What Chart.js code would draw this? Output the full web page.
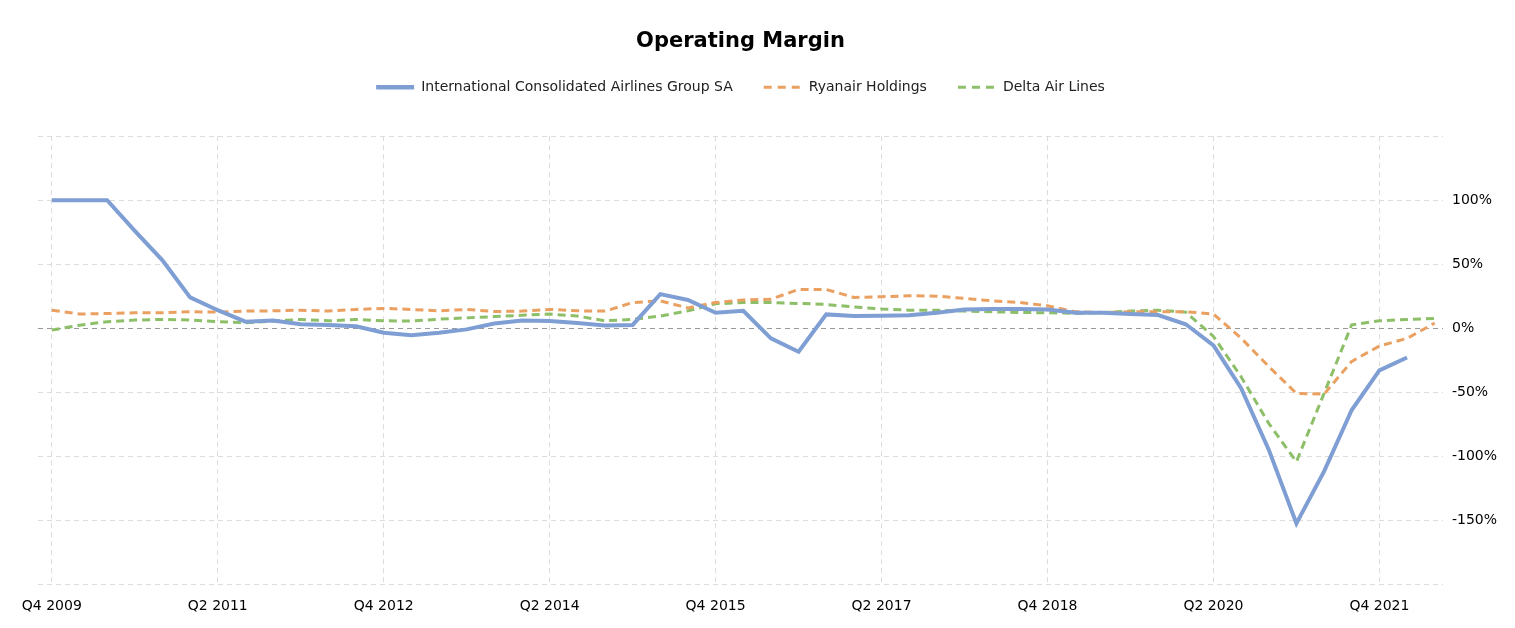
<!DOCTYPE html>
<html>
<head>
<meta charset="utf-8">
<script src="https://cdn.jsdelivr.net/npm/chart.js@4"></script>
<style>
html,body{margin:0;padding:0;background:#fff;}
#wrap{width:1515px;height:628px;}
</style>
</head>
<body>
<div id="wrap"><canvas id="c" width="1515" height="628"></canvas></div>
<script>
const quarters = ["Q4 2009","Q1 2010","Q2 2010","Q3 2010","Q4 2010","Q1 2011","Q2 2011","Q3 2011","Q4 2011","Q1 2012","Q2 2012","Q3 2012","Q4 2012","Q1 2013","Q2 2013","Q3 2013","Q4 2013","Q1 2014","Q2 2014","Q3 2014","Q4 2014","Q1 2015","Q2 2015","Q3 2015","Q4 2015","Q1 2016","Q2 2016","Q3 2016","Q4 2016","Q1 2017","Q2 2017","Q3 2017","Q4 2017","Q1 2018","Q2 2018","Q3 2018","Q4 2018","Q1 2019","Q2 2019","Q3 2019","Q4 2019","Q1 2020","Q2 2020","Q3 2020","Q4 2020","Q1 2021","Q2 2021","Q3 2021","Q4 2021","Q1 2022","Q2 2022"];
const xTickIndices = [0,6,12,18,24,30,36,42,48];
const yTickValues = [-200,-150,-100,-50,0,50,100,150];
const yLabelled = [-150,-100,-50,0,50,100];

const seriesNames = ["International Consolidated Airlines Group SA","Ryanair Holdings","Delta Air Lines"];
const iag = [100,100,100,76,53,24,14,5,6,3,2.5,1.5,-3.6,-5.5,-3.6,-1,3.6,6,5.5,4,2,2.5,26.6,22,12,13.5,-8,-18.5,10.7,9.4,9.6,10,12,14.6,15,15,14.6,12,12,11,10.2,3,-13.5,-47,-95,-152.6,-112,-64,-33,-23,null];
const ryanair = [14,11,11.4,12,12,12.8,12.5,13.3,13.5,14,13.3,14.6,15.4,14.6,13.5,14.6,13,13.3,14.6,13.5,13.3,20,21.3,15.8,20,22,22.6,30.2,30.2,24,24.5,25.3,25,23.2,21.3,20,17.4,12.8,12.2,12.7,12.8,12.8,11,-7.8,-30,-51,-51.6,-26,-14,-8,3.9];
const delta = [-1.5,2.3,5,6.3,6.8,6.3,5,4.2,5.5,6.8,5.7,6.8,5.7,5.5,7,8,9,10,11,9.4,5.7,6.8,9.4,13.5,19,20,20,19.3,18.5,16.5,15,14,14,13.3,12.8,12.2,12,11.5,12.2,13.3,14,12.5,-6.5,-38,-74.5,-104.4,-51,2.6,5.7,6.8,7.6];

const toPts = arr => arr.map((v,i)=>({x:i,y:v}));
const FONT = "'DejaVu Sans', Verdana, sans-serif";
const legendDash = [8,6];

const legendSize = {
  id:'legendSize',
  afterInit(chart){
    const lg = chart.legend;
    if(!lg) return;
    const orig = lg.fit.bind(lg);
    lg.fit = function(){ orig(); this.height = 87; };
  }
};

new Chart(document.getElementById('c'), {
  type: 'line',
  data: {
    datasets: [
      {label: seriesNames[0], data: toPts(iag), borderColor:'#7f9fd4', backgroundColor:'#7f9fd4', borderWidth:4, pointRadius:0, tension:0},
      {label: seriesNames[1], data: toPts(ryanair), borderColor:'#e9a061', backgroundColor:'#e9a061', borderWidth:3, borderDash:[8,5], pointRadius:0, tension:0},
      {label: seriesNames[2], data: toPts(delta), borderColor:'#8dbf68', backgroundColor:'#8dbf68', borderWidth:3, borderDash:[8,5], pointRadius:0, tension:0}
    ]
  },
  plugins:[legendSize],
  options: {
    responsive:false,
    animation:false,
    devicePixelRatio:1,
    layout:{padding:{left:38,right:0,top:0,bottom:0}},
    plugins:{
      title:{display:true,fullSize:false,text:'Operating Margin',color:'#000',font:{family:FONT,size:21,weight:'bold'},padding:{top:29,bottom:-5}},
      legend:{display:true,fullSize:false,labels:{usePointStyle:true,pointStyle:'line',pointStyleWidth:38,color:'#222',font:{family:FONT,size:14},padding:31,
        generateLabels: chart => chart.data.datasets.map((d,i)=>({
          text:d.label, strokeStyle:d.borderColor, fillStyle:d.borderColor,
          lineWidth: i===0 ? 4.5 : 3, lineDash: d.borderDash ? legendDash : [],
          pointStyle:'line', datasetIndex:i, hidden:false, fontColor:'#222'
        }))
      }},
      tooltip:{enabled:false}
    },
    scales:{
      x:{type:'linear',min:-0.5,max:50.3,
        afterBuildTicks:s=>{s.ticks=xTickIndices.map(v=>({value:v}));},
        afterFit:s=>{s.height=44;},
        ticks:{autoSkip:false,maxRotation:0,padding:14,color:'#000',font:{family:FONT,size:14},callback:v=>quarters[v]},
        grid:{color:'#dcdcdc',drawTicks:false,lineWidth:1},
        border:{display:false,dash:[5,4]}
      },
      y:{position:'right',min:-200,max:150,
        afterBuildTicks:s=>{s.ticks=yTickValues.map(v=>({value:v}));},
        afterFit:s=>{s.width=72;},
        ticks:{padding:9,color:'#000',font:{family:FONT,size:14},callback:v=>yLabelled.includes(v)?v+'%':''},
        grid:{color:c=>c.tick&&c.tick.value===0?'#999':'#dcdcdc',drawTicks:false,lineWidth:1},
        border:{display:false,dash:[5,4]}
      }
    }
  }
});
</script>
</body>
</html>
